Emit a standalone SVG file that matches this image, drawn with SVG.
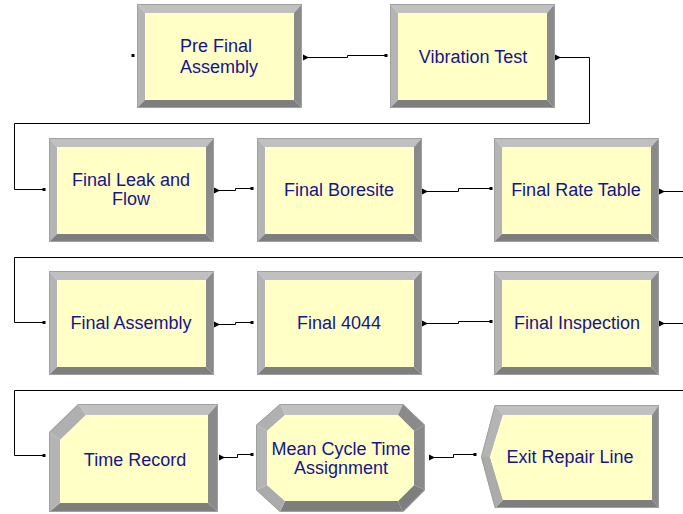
<svg xmlns="http://www.w3.org/2000/svg" xmlns:xlink="http://www.w3.org/1999/xlink" width="683" height="514" viewBox="0 0 683 514">
<style>
.bt{fill:#c0c0c0}.bl{fill:#b4b4b4}.br{fill:#8a8a8a}.bb{fill:#7e7e7e}.in{fill:#ffffc6}
.edge{fill:none;stroke:#a0a0a0;stroke-width:1}
.lbl{font-family:"Liberation Sans",Arial,sans-serif;font-size:18px;fill:#16168a;text-anchor:middle}
.con{fill:none;stroke:#000;stroke-width:1}
.arr{fill:#000}
</style>
<defs>
<g id="box">
<polygon class="bt" points="0,0 165,0 157,9 8,9"/>
<polygon class="bl" points="0,0 8,9 8,96 0,104"/>
<polygon class="br" points="165,0 165,104 157,96 157,9"/>
<polygon class="bb" points="0,104 165,104 157,96 8,96"/>
<rect class="in" x="8" y="9" width="149" height="87"/>
<rect class="edge" x="0.5" y="0.5" width="164" height="103"/>
</g>
<polygon id="arrow" points="0,-3 6,0 0,3"/>
<rect id="dot" x="-1.5" y="-1.5" width="3" height="3"/>
</defs>
<rect width="683" height="514" fill="#fff"/>
<g id="connectors" class="con">
<path d="M305,57.5 H347.5 V55.5 H386"/>
<path d="M556,57.5 H589.5 V123.5 H14.5 V189.5 H44"/>
<path d="M215,190.5 H235.5 V188.5 H252"/>
<path d="M423,191.5 H458.5 V188.5 H491"/>
<path d="M660,191.5 H690 V257.5 H14.5 V322.5 H44"/>
<path d="M215,324.5 H235.5 V322.5 H252"/>
<path d="M423,323.5 H458.5 V321.5 H491"/>
<path d="M660,323.5 H690 V390.5 H14.5 V455.5 H44"/>
<path d="M220,457.5 H237.5 V454.5 H252"/>
<path d="M430,457.5 H453.5 V454.5 H475"/>
</g>
<g id="ports" class="arr">
<use xlink:href="#dot" x="133" y="55.5"/>
<use xlink:href="#dot" x="386" y="55.5"/>
<use xlink:href="#dot" x="44" y="189.5"/>
<use xlink:href="#dot" x="252" y="188.5"/>
<use xlink:href="#dot" x="491" y="188.5"/>
<use xlink:href="#dot" x="44" y="322.5"/>
<use xlink:href="#dot" x="252" y="322.5"/>
<use xlink:href="#dot" x="491" y="321.5"/>
<use xlink:href="#dot" x="44" y="455.5"/>
<use xlink:href="#dot" x="252" y="454.5"/>
<use xlink:href="#dot" x="475" y="454.5"/>
<use xlink:href="#arrow" x="303" y="57.5"/>
<use xlink:href="#arrow" x="555" y="57.5"/>
<use xlink:href="#arrow" x="214" y="190.5"/>
<use xlink:href="#arrow" x="422" y="191.5"/>
<use xlink:href="#arrow" x="659" y="191.5"/>
<use xlink:href="#arrow" x="214" y="324.5"/>
<use xlink:href="#arrow" x="422" y="323.5"/>
<use xlink:href="#arrow" x="659" y="323.5"/>
<use xlink:href="#arrow" x="219" y="457.5"/>
<use xlink:href="#arrow" x="429" y="457.5"/>
</g>
<g id="pre-final-assembly">
<use xlink:href="#box" x="137" y="4"/>
<text class="lbl" x="216" y="52">Pre Final</text>
<text class="lbl" x="219" y="73">Assembly</text>
</g>
<g id="vibration-test">
<use xlink:href="#box" x="390" y="4"/>
<text class="lbl" x="473" y="63">Vibration Test</text>
</g>
<g id="final-leak-and-flow">
<use xlink:href="#box" x="49" y="138"/>
<text class="lbl" x="131" y="186">Final Leak and</text>
<text class="lbl" x="131" y="205">Flow</text>
</g>
<g id="final-boresite">
<use xlink:href="#box" x="257" y="138"/>
<text class="lbl" x="339" y="196">Final Boresite</text>
</g>
<g id="final-rate-table">
<use xlink:href="#box" x="494" y="138"/>
<text class="lbl" x="576" y="196">Final Rate Table</text>
</g>
<g id="final-assembly">
<use xlink:href="#box" x="49" y="271"/>
<text class="lbl" x="131" y="329">Final Assembly</text>
</g>
<g id="final-4044">
<use xlink:href="#box" x="257" y="271"/>
<text class="lbl" x="339" y="329">Final 4044</text>
</g>
<g id="final-inspection">
<use xlink:href="#box" x="494" y="271"/>
<text class="lbl" x="577" y="329">Final Inspection</text>
</g>
<g id="time-record">
<polygon class="bt" points="78,404 218,404 208,415 86,415"/>
<polygon class="br" points="218,404 218,512 208,503 208,415"/>
<polygon class="bb" points="218,512 49,512 60,503 208,503"/>
<polygon class="bl" points="49,512 49,432 60,440 60,503"/>
<polygon fill="#b0b0b0" points="49,432 78,404 86,415 60,440"/>
<polygon class="in" points="86,415 208,415 208,503 60,503 60,440"/>
<polygon class="edge" points="78.5,404.5 217.5,404.5 217.5,511.5 49.5,511.5 49.5,432.5"/>
<text class="lbl" x="135" y="466">Time Record</text>
</g>
<g id="mean-cycle-time-assignment">
<polygon class="bt" points="280,404 403,404 398,415 285,415"/>
<polygon class="br" points="403,404 425,425 414,431 398,415"/>
<polygon class="br" points="425,425 425,490 414,485 414,431"/>
<polygon class="bb" points="425,490 403,512 398,501 414,485"/>
<polygon class="bb" points="403,512 280,512 285,501 398,501"/>
<polygon fill="#ababab" points="280,512 256,490 267,485 285,501"/>
<polygon class="bl" points="256,490 256,425 267,431 267,485"/>
<polygon fill="#b0b0b0" points="256,425 280,404 285,415 267,431"/>
<polygon class="in" points="285,415 398,415 414,431 414,485 398,501 285,501 267,485 267,431"/>
<polygon class="edge" points="280,404.5 403,404.5 424.5,425 424.5,490 403,511.5 280,511.5 256.5,490 256.5,425"/>
<text class="lbl" x="341" y="455">Mean Cycle Time</text>
<text class="lbl" x="341" y="474">Assignment</text>
</g>
<g id="exit-repair-line">
<polygon class="bt" points="495,405 659,405 652,415 503,415"/>
<polygon class="br" points="659,405 659,508 652,500 652,415"/>
<polygon class="bb" points="659,508 495,508 503,500 652,500"/>
<polygon fill="#ababab" points="495,508 481,457 490,457 503,500"/>
<polygon class="bl" points="481,457 495,405 503,415 490,457"/>
<polygon class="in" points="503,415 652,415 652,500 503,500 490,457"/>
<polygon class="edge" points="495,405.5 658.5,405.5 658.5,507.5 495,507.5 481.5,457"/>
<text class="lbl" x="570" y="463">Exit Repair Line</text>
</g>
</svg>
